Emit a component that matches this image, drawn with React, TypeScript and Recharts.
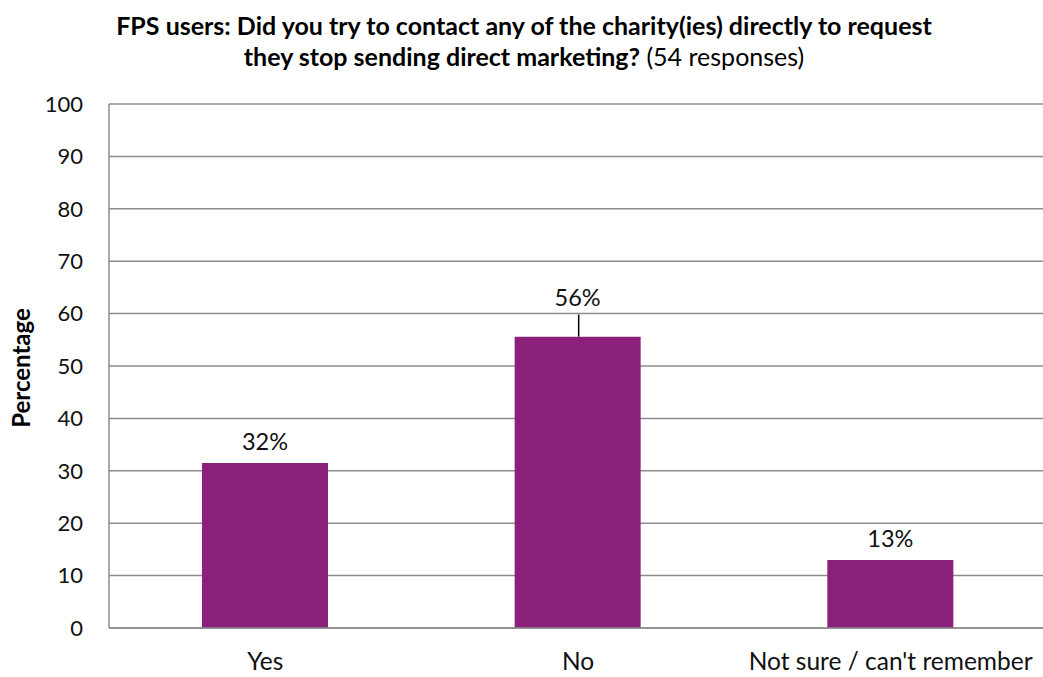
import React from 'react';
import { BarChart, Bar, XAxis, YAxis, CartesianGrid, LabelList } from 'recharts';

const categories = ['Yes', 'No', "Not sure / can't remember"];
const percentages = [31.5, 55.6, 13.0];
const valueLabels = ['32%', '56%', '13%'];
const yTicks = [0, 10, 20, 30, 40, 50, 60, 70, 80, 90, 100];

const data = categories.map((c, i) => ({ name: c, value: percentages[i], label: valueLabels[i] }));

const FONT = 'Lato, "Open Sans", sans-serif';
const BAR_COLOR = '#8A2079';
const GRID = '#8C8C8C';

const renderLabel = (props: any) => {
  const { x, y, width, index } = props;
  const cx = x + width / 2;
  const text = valueLabels[index];
  if (index === 1) {
    return (
      <g>
        <line x1={cx + 1} y1={y} x2={cx + 1} y2={y - 22} stroke="#000" strokeWidth={1.5} />
        <text x={cx} y={y - 31} textAnchor="middle" fontFamily={FONT} fontSize={23.5} fill="#111">
          {text}
        </text>
      </g>
    );
  }
  return (
    <text x={cx} y={y - 13} textAnchor="middle" fontFamily={FONT} fontSize={23.5} fill="#111">
      {text}
    </text>
  );
};

const renderYLabel = () => (
  <text
    x={30}
    y={368}
    transform="rotate(-90 30 368)"
    textAnchor="middle"
    fontFamily={FONT}
    fontWeight={700}
    fontSize={24}
    fill="#000"
  >
    Percentage
  </text>
);

export default function App() {
  return (
    <div style={{ position: 'absolute', left: 0, top: 0, width: 1043, height: 677, overflow: 'hidden', background: '#fff' }}>
      <div
        style={{
          position: 'absolute',
          left: 0,
          top: 10,
          width: 1048,
          textAlign: 'center',
          fontFamily: FONT,
          fontSize: 25,
          lineHeight: '31px',
          color: '#000',
        }}
      >
        <div style={{ fontWeight: 700 }}>FPS users: Did you try to contact any of the charity(ies) directly to request</div>
        <div>
          <span style={{ fontWeight: 700 }}>they stop sending direct marketing?</span> (54 responses)
        </div>
      </div>
      <BarChart
        width={1047}
        height={677}
        data={data}
        margin={{ top: 104, right: 0, bottom: 0, left: 0 }}
        barSize={126}
      >
        <CartesianGrid vertical={false} stroke={GRID} strokeWidth={1.5} />
        <XAxis
          dataKey="name"
          height={49}
          axisLine={{ stroke: GRID, strokeWidth: 1.5 }}
          tickLine={false}
          tickSize={6}
          tickMargin={19}
          tick={{ fontFamily: FONT, fontSize: 24.5, fill: '#111' }}
        />
        <YAxis
          width={109}
          domain={[0, 100]}
          ticks={yTicks}
          interval={0}
          axisLine={{ stroke: GRID, strokeWidth: 1.5 }}
          tickLine={false}
          tickSize={6}
          tickMargin={20}
          tick={{ fontFamily: FONT, fontSize: 22, fill: '#111' }}
          label={renderYLabel}
        />
        <Bar dataKey="value" fill={BAR_COLOR} isAnimationActive={false}>
          <LabelList dataKey="label" content={renderLabel} />
        </Bar>
      </BarChart>
    </div>
  );
}
